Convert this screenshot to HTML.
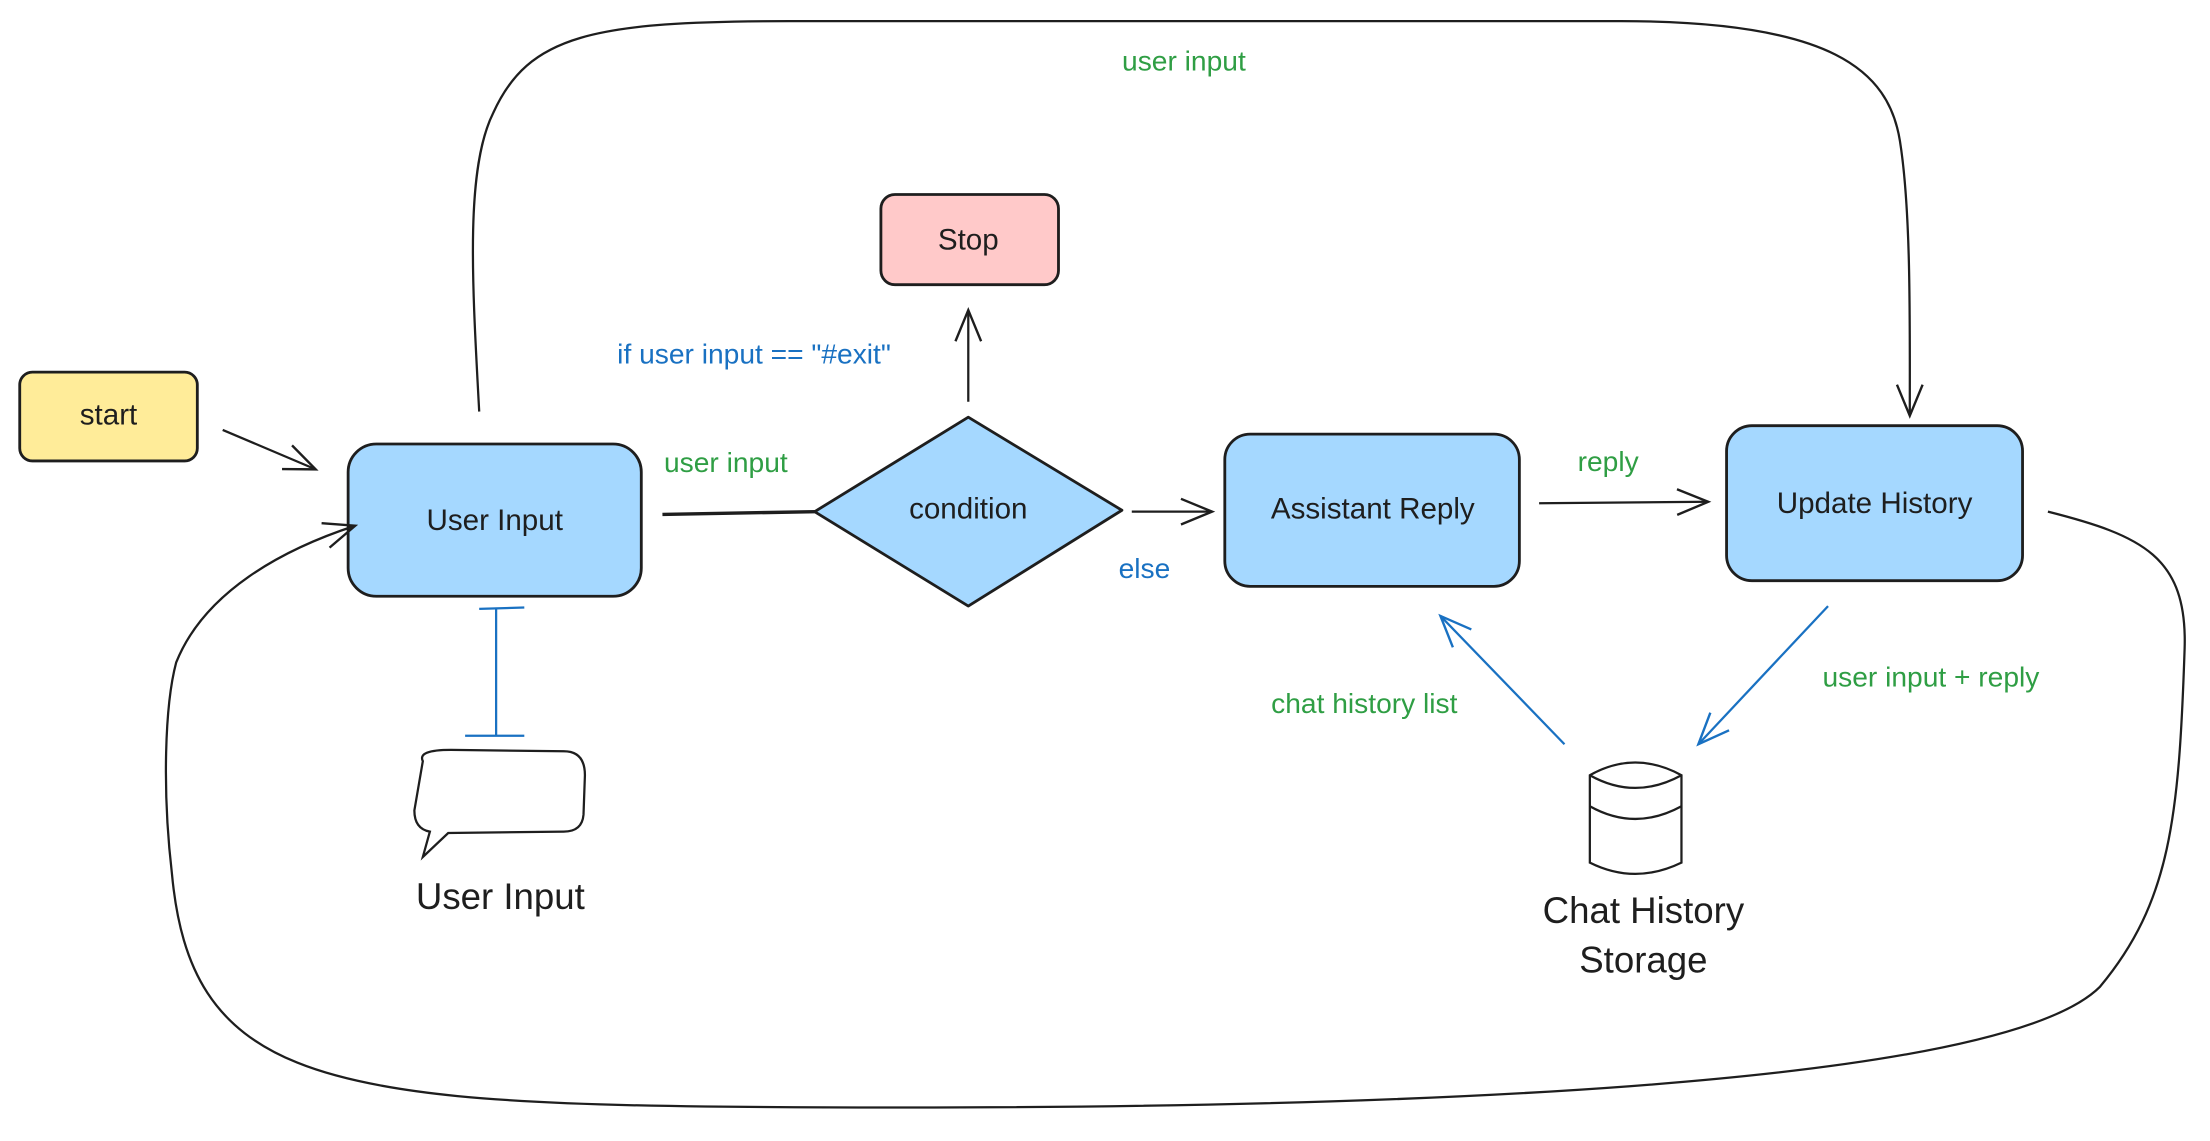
<!DOCTYPE html>
<html><head><meta charset="utf-8"><style>
html,body{margin:0;padding:0;background:#fff;}
svg{display:block;}
text{font-family:"Liberation Sans",sans-serif;}
</style></head><body>
<svg width="2210" height="1141" viewBox="0 0 1568 809.5" preserveAspectRatio="none" xmlns="http://www.w3.org/2000/svg">
<defs>
<marker id="a" viewBox="0 0 20 20" refX="18" refY="10" markerWidth="26" markerHeight="26" orient="auto" markerUnits="userSpaceOnUse"><path d="M1,3 L18,10 L1,17" fill="none" stroke="#1e1e1e" stroke-width="1.3"/></marker>
<marker id="b" viewBox="0 0 20 20" refX="18" refY="10" markerWidth="26" markerHeight="26" orient="auto" markerUnits="userSpaceOnUse"><path d="M1,3 L18,10 L1,17" fill="none" stroke="#1971c2" stroke-width="1.3"/></marker>
</defs>
<g stroke="#1e1e1e" stroke-width="2" fill="none">
<rect x="14" y="264" width="126" height="63" rx="9" fill="#ffec99"/>
<rect x="247" y="315" width="208" height="108" rx="20" fill="#a5d8ff"/>
<polygon points="578,363 687,296 796,362 687,430" fill="#a5d8ff" stroke-linejoin="round"/>
<rect x="625" y="138" width="126" height="64" rx="10" fill="#ffc9c9"/>
<rect x="869" y="308" width="209" height="108" rx="18" fill="#a5d8ff"/>
<rect x="1225" y="302" width="210" height="110" rx="18" fill="#a5d8ff"/>
<line x1="158" y1="305" x2="224" y2="333" marker-end="url(#a)" stroke-width="1.6"/>
<line x1="470" y1="365" x2="578" y2="363" stroke-width="2.4"/>
<line x1="687" y1="285" x2="687" y2="220" marker-end="url(#a)" stroke-width="1.6"/>
<line x1="803" y1="363" x2="860" y2="363" marker-end="url(#a)" stroke-width="1.6"/>
<line x1="1092" y1="357" x2="1212" y2="356" marker-end="url(#a)" stroke-width="1.6"/>
<path d="M340,292 C335,200 330,120 350,80 C375,25 420,15 560,15 L1150,15 C1300,15 1340,50 1348,100 C1356,150 1355,230 1355,295" marker-end="url(#a)" stroke-width="1.6"/>
<path d="M1453,363 C1520,380 1552,395 1550,460 C1546,580 1540,640 1490,700 C1420,770 1000,790 500,785 C220,782 135,760 122,620 C115,560 117,500 125,470 C145,420 200,390 252,373" marker-end="url(#a)" stroke-width="1.6"/>
<path d="M300,540 Q296,532 320,532 L400,533 Q415,533 415,550 L414,578 Q413,590 400,590 L318,591 L300,608 L305,590 Q294,588 294,575 Z" fill="#fff" stroke-width="1.6"/>
<path d="M1128,550 Q1160,532 1193,550 L1193,612 Q1160,628 1128,612 Z" fill="#fff" stroke-width="1.6"/>
<path d="M1128,550 Q1160,568 1193,550 M1128,572 Q1160,590 1193,572" stroke-width="1.6"/>
</g>
<g stroke="#1971c2" stroke-width="1.6" fill="none">
<line x1="352" y1="432" x2="352" y2="522"/>
<line x1="340" y1="432" x2="372" y2="431"/>
<line x1="330" y1="522" x2="372" y2="522"/>
<line x1="1297" y1="430" x2="1205" y2="528" marker-end="url(#b)"/>
<line x1="1110" y1="528" x2="1022" y2="437" marker-end="url(#b)"/>
</g>
<g font-size="21" text-anchor="middle" fill="#1e1e1e">
<text x="77" y="301">start</text>
<text x="351" y="376">User Input</text>
<text x="687" y="368">condition</text>
<text x="687" y="177">Stop</text>
<text x="974" y="368">Assistant Reply</text>
<text x="1330" y="364">Update History</text>
<text x="355" y="645" font-size="26">User Input</text>
<text x="1166" y="655" font-size="26">Chat History</text>
<text x="1166" y="690" font-size="26">Storage</text>
</g>
<g font-size="20" text-anchor="middle">
<text x="535" y="258" fill="#1971c2">if user input == "#exit"</text>
<text x="515" y="335" fill="#2f9e44">user input</text>
<text x="812" y="410" fill="#1971c2">else</text>
<text x="1141" y="334" fill="#2f9e44">reply</text>
<text x="840" y="50" fill="#2f9e44">user input</text>
<text x="1370" y="487" fill="#2f9e44">user input + reply</text>
<text x="968" y="506" fill="#2f9e44">chat history list</text>
</g>
</svg>
</body></html>
